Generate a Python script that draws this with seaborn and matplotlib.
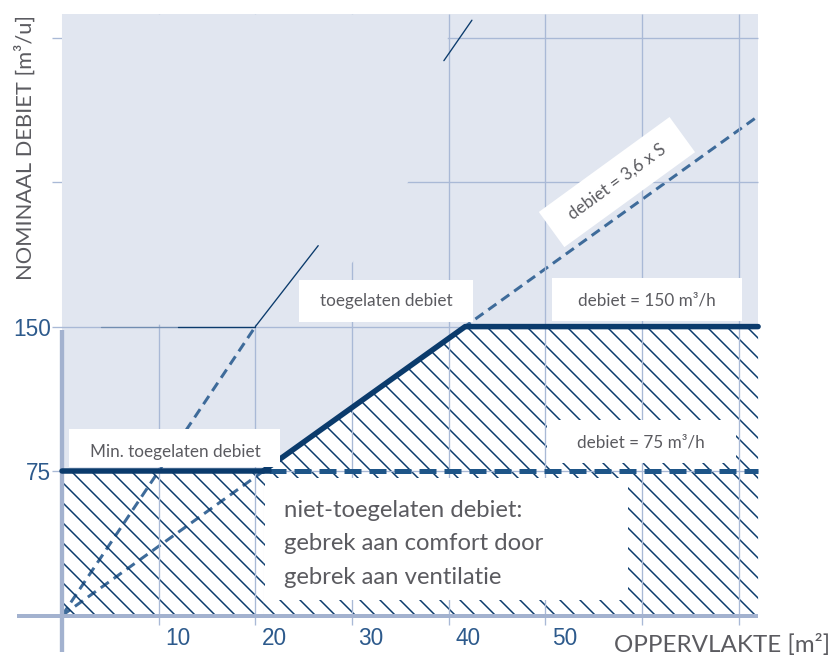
import matplotlib.pyplot as plt
from matplotlib.patches import Rectangle, Polygon
from matplotlib.transforms import ScaledTranslation
import seaborn as sns

# oppervlakte S [m2] en debiet [m3/h]
min_x = [0, 21.4]
min_y = [75, 75]
bold_x = [20.8, 41.7, 72]
bold_y = [75, 150, 150]
dash75_x = [21.4, 72]
dash75_y = [75, 75]
rate_x = [0, 72]
rate_y = [0, 259.2]
steep_x = [0, 20]
steep_y = [0, 150]
thin_x = [20, 26.5]
thin_y = [150, 192]
stray_x = [39.5, 42.4]
stray_y = [288, 309]
fade_x = [4, 12]
fade_y = [150, 150]
flat_x = [12, 20]
flat_y = [150, 150]

grid_x = [10, 20, 30, 40, 50, 60, 70]
grid_y = [75, 150, 225, 300]
xtick_pos = [10, 20, 30, 40, 50]
xtick_lbl = ["10", "20", "30", "40", "50"]
ytick_pos = [75, 150]
ytick_lbl = ["75", "150"]

BG = "#e1e6f0"
GRID = "#a9b9d6"
NAVY = "#0b3b6c"
MID = "#3e6b9a"
TXT = "#5b5b60"
TICK = "#2d5a8c"
FONT = ["Lato", "DejaVu Sans"]

sns.set_theme(style="white")
plt.rcParams["hatch.linewidth"] = 0.9

fig = plt.figure(figsize=(7, 5.525), dpi=120)
ax = fig.add_axes([0.01625, 0.0133, 0.892, 0.9664])
ax.set_xlim(-5, 72.5)
ax.set_ylim(-20, 312.5)

# achtergrond
ax.add_patch(Rectangle((0, 0), 72, 312, facecolor=BG, edgecolor="none", zorder=1))
# zone onder min. debiet (wit)
ax.fill_between([0, 20.8], [0, 0], [75, 75], facecolor="white", edgecolor="none", zorder=1.1)

# gestippelde lijnen
sns.lineplot(x=rate_x, y=rate_y, color=MID, lw=1.8, ls=(0, (3.3, 2)), estimator=None, sort=False, zorder=2, ax=ax)
sns.lineplot(x=steep_x, y=steep_y, color=MID, lw=1.8, ls=(0, (3.3, 2)), estimator=None, sort=False, zorder=2, ax=ax)

# gearceerde zones
ax.fill_between([20.8, 41.7, 72], [0, 0, 0], [75, 150, 150], facecolor="white",
                edgecolor=NAVY, hatch="\\\\", linewidth=0, zorder=3)
ax.fill_between([0, 20.8], [0, 0], [75, 75], facecolor="none",
                edgecolor=NAVY, hatch="\\\\", linewidth=0, zorder=3)

# raster
ax.vlines(grid_x, -5, 312, color=GRID, lw=0.8, zorder=3.5)
ax.hlines(grid_y, -1, 72, color=GRID, lw=0.8, zorder=3.5)
ax.add_patch(Polygon([(0, 151), (20, 151), (30, 183), (35.8, 225), (39.9, 285),
                      (39.9, 312), (0, 312)], closed=True, facecolor=BG, edgecolor="none", zorder=3.6))

# assen
ax.plot([-4.7, 72], [0, 0], color="#a3b2cf", lw=2.4, zorder=3.7, solid_capstyle="butt")
ax.plot([0, 0], [-19, 148], color="#a3b2cf", lw=2.6, zorder=3.7, solid_capstyle="butt")

# dunne lijnen
for xs, ys in [(thin_x, thin_y), (stray_x, stray_y), (flat_x, flat_y)]:
    ax.plot(xs, ys, color=NAVY, lw=0.8, zorder=4)
ax.plot(fade_x, fade_y, color=NAVY, lw=0.8, alpha=0.35, zorder=4)

# vette lijnen
sns.lineplot(x=min_x, y=min_y, color=NAVY, lw=3.3, estimator=None, sort=False, zorder=4.2, ax=ax)
sns.lineplot(x=bold_x, y=bold_y, color=NAVY, lw=3.3, estimator=None, sort=False, zorder=4.2, ax=ax)
sns.lineplot(x=dash75_x, y=dash75_y, color="#1e5588", lw=3.0, ls=(0, (3.4, 1.6)), estimator=None, sort=False, zorder=4.1, ax=ax)

# labels in kaders
boxes = [
    ((24.5, 152.2), 18.0, 21.8, 33.5, 163.2, "toegelaten debiet"),
    ((50.7, 152.9), 19.6, 22.3, 60.5, 163.8, "debiet = 150 m³/h"),
    ((0.7, 77.2), 21.9, 19.7, 11.7, 85.0, "Min. toegelaten debiet"),
    ((50.2, 79.2), 19.5, 22.3, 59.9, 89.6, "debiet = 75 m³/h"),
]
for (bx, by), bw, bh, tx, ty, s in boxes:
    ax.add_patch(Rectangle((bx, by), bw, bh, facecolor="white", edgecolor="none", zorder=5))
    ax.text(tx, ty, s, ha="center", va="center", fontsize=10.3, color=TXT, family=FONT, zorder=6)

ax.add_patch(Rectangle((21, 8.1), 37.5, 63.4, facecolor="white", edgecolor="none", zorder=5))
ax.text(23, 54.8, "niet-toegelaten debiet:", ha="left", va="center", fontsize=14.3, color=TXT, family=FONT, zorder=6)
ax.text(23, 37.2, "gebrek aan comfort door", ha="left", va="center", fontsize=14.3, color=TXT, family=FONT, zorder=6)
ax.text(23, 20.0, "gebrek aan ventilatie", ha="left", va="center", fontsize=14.3, color=TXT, family=FONT, zorder=6)

ax.text(57.4, 225, "  debiet = 3,6 x S  ", ha="center", va="center", rotation=36,
        rotation_mode="anchor", fontsize=10.3, color=TXT, family=FONT, zorder=6,
        bbox=dict(boxstyle="square,pad=0.8", facecolor="white", edgecolor="none"))

# assen, ticks
for side in ["top", "right", "left", "bottom"]:
    ax.spines[side].set_visible(False)
ax.spines["left"].set_position(("data", 0))
ax.spines["bottom"].set_position(("data", 0))
ax.set_xticks(xtick_pos, xtick_lbl)
ax.set_yticks(ytick_pos, ytick_lbl)
ax.tick_params(axis="x", length=0, pad=7, labelsize=13.5, labelcolor=TICK)
ax.tick_params(axis="y", length=0, pad=6.6, labelsize=13.5, labelcolor=TICK)
for lbl in ax.get_xticklabels() + ax.get_yticklabels():
    lbl.set_family(["Liberation Sans", "DejaVu Sans"])
for lbl in ax.get_xticklabels():
    lbl.set_transform(lbl.get_transform() + ScaledTranslation(19 / 120, 0, fig.dpi_scale_trans))
ax.grid(False)

fig.text(25 / 840, 1 - 148 / 663, "NOMINAAL DEBIET [m³/u]", rotation=90, ha="center", va="center",
         fontsize=13.1, color=TXT, family=FONT)
fig.text(830 / 840, 1 - 645 / 663, "OPPERVLAKTE [m²]", ha="right", va="center",
         fontsize=14.5, color=TXT, family=FONT)

fig.savefig("out.png", dpi=120)
